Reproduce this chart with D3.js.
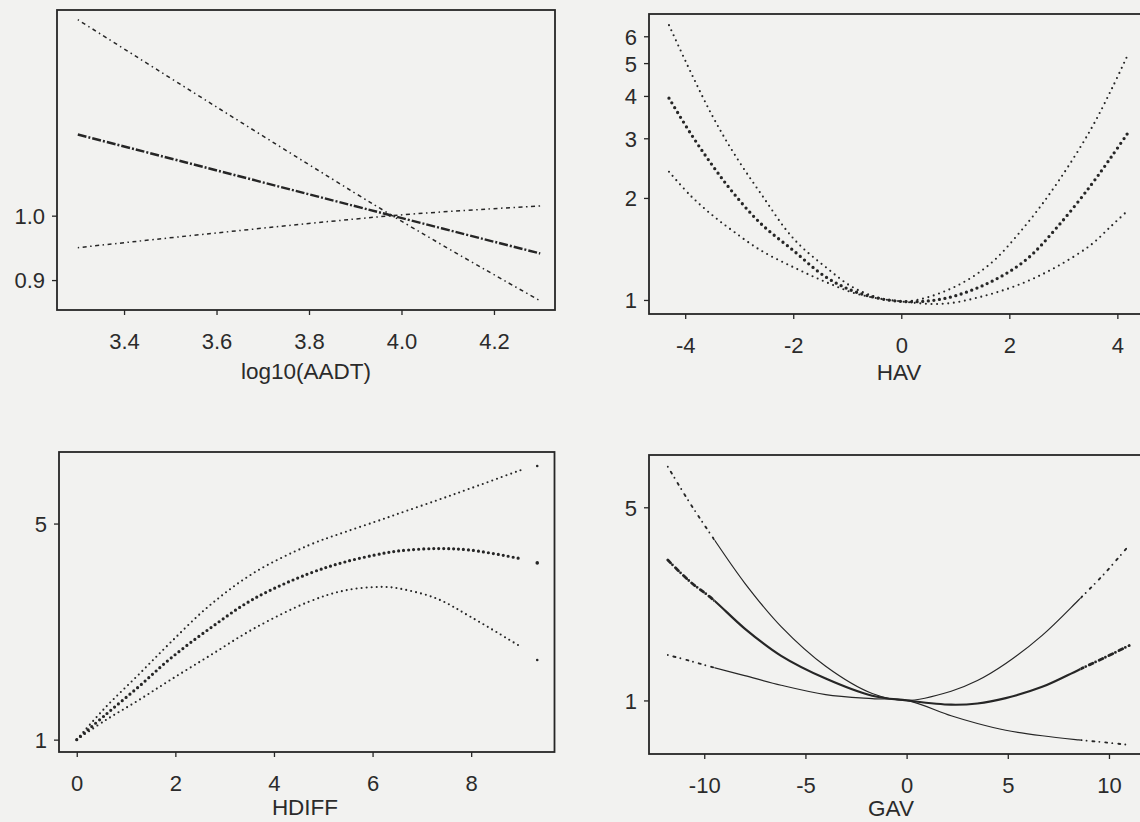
<!DOCTYPE html>
<html>
<head>
<meta charset="utf-8">
<script src="https://cdn.jsdelivr.net/npm/d3@7"></script>
<style>
  html, body { margin: 0; padding: 0; background: #f2f2f0; }
  svg { display: block; }
  text { font-family: "Liberation Sans", Arial, Helvetica, sans-serif; fill: #2b2b2b; }
</style>
</head>
<body>
<svg id="chart" width="1140" height="822"></svg>
<script>
// ---------------- DATA ----------------
// Panel 1: log10(AADT)
const aadtX      = [3.30, 3.98, 4.30];
const aadtUpper  = [1.378, 1.000, 0.870];
const aadtEst    = [1.142, 1.000, 0.940];
const aadtLower  = [0.949, 1.000, 1.016];
const aadtYTicks = [0.9, 1.0];
const aadtXTicks = [3.4, 3.6, 3.8, 4.0, 4.2];

// Panel 2: HAV
const havX      = [-4.3, -3.9, -3.5, -3.1, -2.6, -2.0, -1.4, -0.8, 0.0, 0.8, 1.6, 2.3, 2.9, 3.5, 3.9, 4.2];
const havUpper  = [6.47, 4.71, 3.50, 2.71, 2.06, 1.52, 1.25, 1.07, 0.99, 1.06, 1.26, 1.66, 2.23, 3.17, 4.21, 5.32];
const havEst    = [3.94, 3.10, 2.50, 2.06, 1.68, 1.40, 1.17, 1.05, 0.99, 1.01, 1.12, 1.31, 1.65, 2.17, 2.66, 3.12];
const havLower  = [2.39, 2.03, 1.78, 1.59, 1.40, 1.25, 1.13, 1.04, 0.99, 0.975, 1.035, 1.13, 1.26, 1.45, 1.66, 1.84];
const havYTicks = [1, 2, 3, 4, 5, 6];
const havXTicks = [-4, -2, 0, 2, 4];

// Panel 3: HDIFF (last value is the isolated end point)
const hdiffX      = [0, 0.6, 1.25, 1.9, 2.7, 3.6, 4.7, 5.45, 6.2, 6.55, 7.3, 8.0, 9.0, 9.34];
const hdiffUpper  = [1.0, 1.28, 1.62, 2.06, 2.72, 3.47, 4.25, 4.70, 5.16, 5.40, 5.94, 6.51, 7.44, 7.68];
const hdiffEst    = [1.0, 1.21, 1.48, 1.83, 2.29, 2.86, 3.44, 3.76, 4.00, 4.08, 4.15, 4.10, 3.85, 3.73];
const hdiffLower  = [1.0, 1.16, 1.34, 1.56, 1.87, 2.29, 2.79, 3.04, 3.12, 3.08, 2.86, 2.49, 2.00, 1.81];
const hdiffYTicks = [1, 5];
const hdiffXTicks = [0, 2, 4, 6, 8];

// Panel 4: GAV
const gavX      = [-11.8, -10.7, -9.6, -8.0, -6.2, -4.0, -1.7, 0.0, 2.2, 3.5, 4.9, 6.7, 8.5, 9.8, 11.0];
const gavUpper  = [7.01, 5.17, 3.91, 2.66, 1.85, 1.33, 1.06, 1.00, 1.08, 1.18, 1.36, 1.72, 2.31, 2.89, 3.65];
const gavEst    = [3.22, 2.69, 2.33, 1.82, 1.45, 1.20, 1.04, 1.00, 0.965, 0.975, 1.02, 1.12, 1.29, 1.43, 1.58];
const gavLower  = [1.46, 1.39, 1.32, 1.23, 1.135, 1.05, 1.015, 1.00, 0.88, 0.825, 0.78, 0.745, 0.72, 0.705, 0.69];
const gavYTicks = [1, 5];
const gavXTicks = [-10, -5, 0, 5, 10];

// ---------------- LAYOUT ----------------
const svg = d3.select("#chart");
const ink = "#262626";
const fmtInt = d => String(d);
const fmt1 = d => d.toFixed(1);

const panels = [
  { id: "p1", title: "log10(AADT)", x0: 57,  x1: 555,  y0: 10,  y1: 310,
    xDom: [3.255, 4.332], yDom: [0.857, 1.40],
    xs: aadtX, series: [aadtUpper, aadtEst, aadtLower],
    xTicks: aadtXTicks, yTicks: aadtYTicks, yFmt: fmt1, xFmt: fmt1,
    titleX: 306, titleY: 379, style: "dashdot" },
  { id: "p2", title: "HAV", x0: 649, x1: 1146, y0: 14, y1: 314,
    xDom: [-4.67, 4.53], yDom: [0.909, 6.98],
    xs: havX, series: [havUpper, havEst, havLower],
    xTicks: havXTicks, yTicks: havYTicks, yFmt: fmtInt, xFmt: fmtInt,
    titleX: 899, titleY: 380, style: "dots" },
  { id: "p3", title: "HDIFF", x0: 59, x1: 554.5, y0: 452, y1: 752,
    xDom: [-0.36, 9.69], yDom: [0.912, 8.52],
    xs: hdiffX, series: [hdiffUpper, hdiffEst, hdiffLower],
    xTicks: hdiffXTicks, yTicks: hdiffYTicks, yFmt: fmtInt, xFmt: fmtInt,
    titleX: 305, titleY: 815, style: "dotsEnd" },
  { id: "p4", title: "GAV", x0: 649, x1: 1146, y0: 455, y1: 754,
    xDom: [-12.73, 11.83], yDom: [0.640, 7.73],
    xs: gavX, series: [gavUpper, gavEst, gavLower],
    xTicks: gavXTicks, yTicks: gavYTicks, yFmt: fmtInt, xFmt: fmtInt,
    titleX: 891, titleY: 816, style: "solidEnds", solidRange: [-9.5, 8.6] }
];

const tickFont = 22, titleFont = 22.5;

panels.forEach(p => {
  const x = d3.scaleLinear().domain(p.xDom).range([p.x0, p.x1]);
  const y = d3.scaleLog().domain(p.yDom).range([p.y1, p.y0]);
  const g = svg.append("g").attr("id", p.id);

  const clipId = "clip-" + p.id;
  svg.append("clipPath").attr("id", clipId)
    .append("rect").attr("x", p.x0).attr("y", p.y0)
    .attr("width", p.x1 - p.x0).attr("height", p.y1 - p.y0);

  // axes
  const xAxis = g.append("g").attr("transform", `translate(0,${p.y1})`)
    .call(d3.axisBottom(x).tickValues(p.xTicks).tickFormat(p.xFmt).tickSize(5).tickSizeOuter(0));
  const yAxis = g.append("g").attr("transform", `translate(${p.x0},0)`)
    .call(d3.axisLeft(y).tickValues(p.yTicks).tickFormat(p.yFmt).tickSize(5).tickSizeOuter(0));
  [xAxis, yAxis].forEach(a => {
    a.select(".domain").remove();
    a.selectAll(".tick line").attr("stroke", ink).attr("stroke-width", 1.3);
    a.selectAll(".tick text").attr("fill", ink).style("font-size", tickFont + "px")
      .style("font-family", '"Liberation Sans", Arial, Helvetica, sans-serif');
  });
  xAxis.selectAll(".tick text").attr("y", 39).attr("dy", 0);
  yAxis.selectAll(".tick text").attr("x", -12).attr("dy", "0.36em");

  // frame
  g.append("rect").attr("x", p.x0).attr("y", p.y0)
    .attr("width", p.x1 - p.x0).attr("height", p.y1 - p.y0)
    .attr("fill", "none").attr("stroke", ink).attr("stroke-width", 1.8);

  // title
  g.append("text").attr("x", p.titleX).attr("y", p.titleY)
    .attr("text-anchor", "middle").style("font-size", titleFont + "px").text(p.title);

  const plot = g.append("g").attr("clip-path", `url(#${clipId})`);

  const lineGen = (xs, ys) => d3.line()
    .x((d, i) => x(xs[i])).y(d => y(d))
    .curve(d3.curveCatmullRom.alpha(0.5))(ys);

  p.series.forEach((ys, si) => {
    const isEst = si === 1;
    if (p.style === "dashdot") {
      plot.append("path").attr("d", lineGen(p.xs, ys))
        .attr("fill", "none").attr("stroke", ink)
        .attr("stroke-width", isEst ? 2.4 : 1.5)
        .attr("stroke-dasharray", isEst ? "9,2,2,2" : "1.5,3.5,4,3.5");
    } else if (p.style === "dots") {
      plot.append("path").attr("d", lineGen(p.xs, ys))
        .attr("fill", "none").attr("stroke", ink)
        .attr("stroke-linecap", "round")
        .attr("stroke-width", isEst ? 3.3 : 2.1)
        .attr("stroke-dasharray", "0,5.6");
    } else if (p.style === "dotsEnd") {
      const n = p.xs.length - 1;
      plot.append("path").attr("d", lineGen(p.xs.slice(0, n), ys.slice(0, n)))
        .attr("fill", "none").attr("stroke", ink)
        .attr("stroke-linecap", "round")
        .attr("stroke-width", isEst ? 3.2 : 2.1)
        .attr("stroke-dasharray", "0,5");
      plot.append("circle").attr("cx", x(p.xs[n])).attr("cy", y(ys[n]))
        .attr("r", isEst ? 1.8 : 1.3).attr("fill", ink);
    } else if (p.style === "solidEnds") {
      const d = lineGen(p.xs, ys);
      const sx0 = x(p.solidRange[0]), sx1 = x(p.solidRange[1]);
      const cIn = `${clipId}-in-${si}`, cOut = `${clipId}-out-${si}`;
      svg.append("clipPath").attr("id", cIn).append("rect")
        .attr("x", sx0).attr("y", p.y0).attr("width", sx1 - sx0).attr("height", p.y1 - p.y0);
      const co = svg.append("clipPath").attr("id", cOut);
      co.append("rect").attr("x", p.x0).attr("y", p.y0).attr("width", sx0 - p.x0).attr("height", p.y1 - p.y0);
      co.append("rect").attr("x", sx1).attr("y", p.y0).attr("width", p.x1 - sx1).attr("height", p.y1 - p.y0);
      plot.append("path").attr("d", d).attr("clip-path", `url(#${cIn})`)
        .attr("fill", "none").attr("stroke", ink)
        .attr("stroke-width", isEst ? 2.2 : 1.2);
      plot.append("path").attr("d", d).attr("clip-path", `url(#${cOut})`)
        .attr("fill", "none").attr("stroke", ink)
        .attr("stroke-linecap", "round")
        .attr("stroke-width", isEst ? 2.8 : 1.9)
        .attr("stroke-dasharray", isEst ? "4,3,0,4" : "0,6,2,5");
    }
  });
});
</script>
</body>
</html>
